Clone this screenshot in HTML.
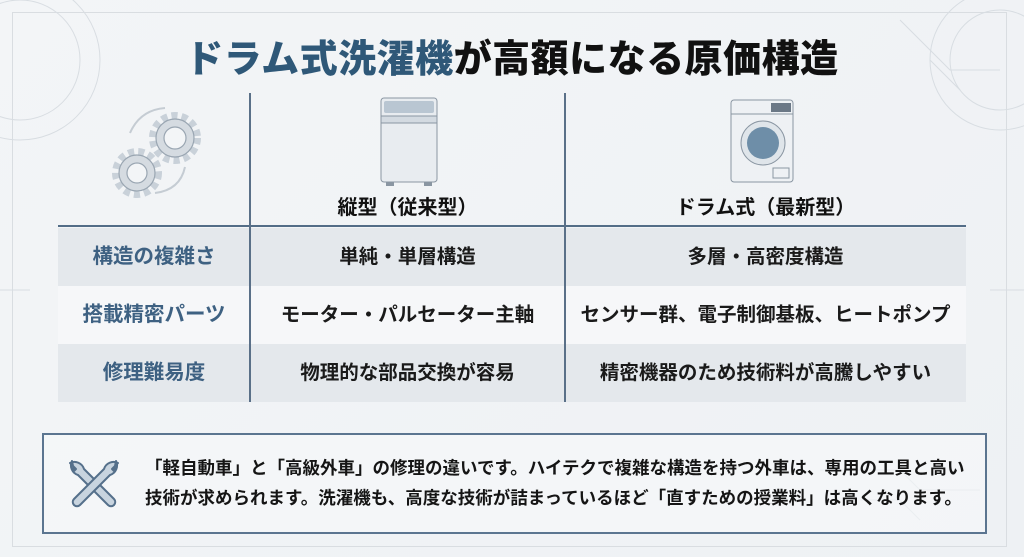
<!DOCTYPE html>
<html><head><meta charset="utf-8"><style>
body{margin:0;width:1024px;height:557px;overflow:hidden;background:linear-gradient(135deg,#f3f5f7,#eef1f4);font-family:"Liberation Sans","Noto Sans CJK JP",sans-serif;position:relative}
.a{position:absolute}
.t{font-weight:bold;white-space:nowrap}
.title{left:0;width:1024px;top:28px;text-align:center;font-size:38px;font-weight:900;color:#111;letter-spacing:0.5px}
.title span{color:#2f5878}
.row{left:58px;width:908px;height:58px}
.lab{color:#3e6182;font-size:20.5px;text-align:center;width:192px;line-height:58px}
.c1{color:#1a1a1a;font-size:19.5px;text-align:center;width:315px;left:192px;line-height:58px}
.c2{color:#1a1a1a;font-size:19.5px;text-align:center;width:401px;left:507px;line-height:58px}
</style></head><body>
<div class="a" style="left:12px;top:12px;width:993px;height:533px;border:1px solid #d9dde1"></div>
<svg class="a" style="left:0;top:0" width="1024" height="557">
<g fill="none" stroke="#d8dde2" stroke-width="1">
<circle cx="20" cy="60" r="60"/><circle cx="20" cy="60" r="80"/><circle cx="1000" cy="60" r="70"/><circle cx="1000" cy="60" r="50"/>
<path d="M900 20 L950 70 L1000 70 M930 60 L960 90"/>
<path d="M0 290 L30 290 M990 290 L1024 290"/>
<path d="M820 470 L900 470 L920 490 L980 490 M860 500 L900 500 L920 520"/>
</g></svg>
<div class="a t title"><span>ドラム式洗濯機</span>が高額になる原価構造</div>
<svg class="a" style="left:105px;top:105px" width="100" height="95" viewBox="0 0 100 95">
<g fill="#d5dbe1" stroke="#9aa6b2" stroke-width="1.2">
<circle cx="70" cy="33" r="22" stroke-dasharray="6 4" stroke-width="8" fill="none" stroke="#c9d1d9"/>
<circle cx="70" cy="33" r="19"/><circle cx="70" cy="33" r="11" fill="#f3f5f7"/>
<circle cx="32" cy="68" r="21" stroke-dasharray="6 4" stroke-width="8" fill="none" stroke="#c9d1d9"/>
<circle cx="32" cy="68" r="18"/><circle cx="32" cy="68" r="10" fill="#f3f5f7"/>
</g>
<path d="M25 28 Q35 5 60 3" fill="none" stroke="#c5ccd3" stroke-width="2"/>
<path d="M80 62 Q75 85 50 88" fill="none" stroke="#c5ccd3" stroke-width="2"/>
</svg>
<svg class="a" style="left:378px;top:96px" width="62" height="92">
<rect x="3" y="2" width="56" height="84" rx="3" fill="#e8ecf0" stroke="#8a96a2"/>
<rect x="6" y="5" width="50" height="12" rx="2" fill="#b9c6d2"/>
<rect x="3" y="20" width="56" height="7" fill="#d3dae1" stroke="#8a96a2"/>
<rect x="8" y="86" width="8" height="4" fill="#8a96a2"/><rect x="46" y="86" width="8" height="4" fill="#8a96a2"/>
</svg>
<svg class="a" style="left:729px;top:98px" width="66" height="88">
<rect x="2" y="2" width="62" height="82" rx="3" fill="#eef1f4" stroke="#8a96a2"/>
<line x1="2" y1="16" x2="64" y2="16" stroke="#8a96a2"/>
<rect x="42" y="5" width="20" height="9" fill="#6b7886"/>
<circle cx="34" cy="45" r="22" fill="#dfe5ea" stroke="#8a96a2"/>
<circle cx="34" cy="45" r="16" fill="#6e8ea8"/>
<rect x="44" y="70" width="16" height="10" fill="none" stroke="#8a96a2"/>
</svg>
<div class="a t" style="left:250px;width:315px;top:191px;text-align:center;font-size:20px;color:#111">縦型（従来型）</div>
<div class="a t" style="left:565px;width:401px;top:191px;text-align:center;font-size:20px;color:#111">ドラム式（最新型）</div>
<div class="a row" style="top:228px;background:#e4e8ec"></div>
<div class="a row" style="top:286px;background:#f6f7f9"></div>
<div class="a row" style="top:344px;background:#e4e8ec"></div>
<div class="a" style="left:58px;top:225px;width:908px;height:2px;background:#536d87"></div>
<div class="a" style="left:249px;top:93px;width:2px;height:309px;background:#5a7088"></div>
<div class="a" style="left:564px;top:93px;width:2px;height:309px;background:#5a7088"></div>
<div class="a row" style="top:228px"><div class="a t lab">構造の複雑さ</div><div class="a t c1">単純・単層構造</div><div class="a t c2">多層・高密度構造</div></div>
<div class="a row" style="top:286px"><div class="a t lab">搭載精密パーツ</div><div class="a t c1">モーター・パルセーター主軸</div><div class="a t c2">センサー群、電子制御基板、ヒートポンプ</div></div>
<div class="a row" style="top:344px"><div class="a t lab">修理難易度</div><div class="a t c1">物理的な部品交換が容易</div><div class="a t c2">精密機器のため技術料が高騰しやすい</div></div>
<div class="a" style="left:42px;top:433px;width:941px;height:97px;border:2px solid #5b7590;background:rgba(246,248,250,.6)"></div>
<svg class="a" style="left:64px;top:455px" width="60" height="55" viewBox="0 0 60 55">
<g stroke="#55708b" stroke-width="2" fill="#c8d4df" stroke-linejoin="round">
<path d="M8 6 A10 10 0 0 0 14 20 L44 50 A4 4 0 0 0 50 44 L20 14 A10 10 0 0 0 6 8 L12 14 L10 16 Z"/>
<path d="M52 6 A10 10 0 0 1 46 20 L16 50 A4 4 0 0 1 10 44 L40 14 A10 10 0 0 1 54 8 L48 14 L50 16 Z"/>
</g></svg>
<div class="a t" style="left:145px;top:453px;font-size:17.5px;line-height:30px;color:#151515">「軽自動車」と「高級外車」の修理の違いです。ハイテクで複雑な構造を持つ外車は、専用の工具と高い<br>技術が求められます。洗濯機も、高度な技術が詰まっているほど「直すための授業料」は高くなります。</div>
</body></html>
